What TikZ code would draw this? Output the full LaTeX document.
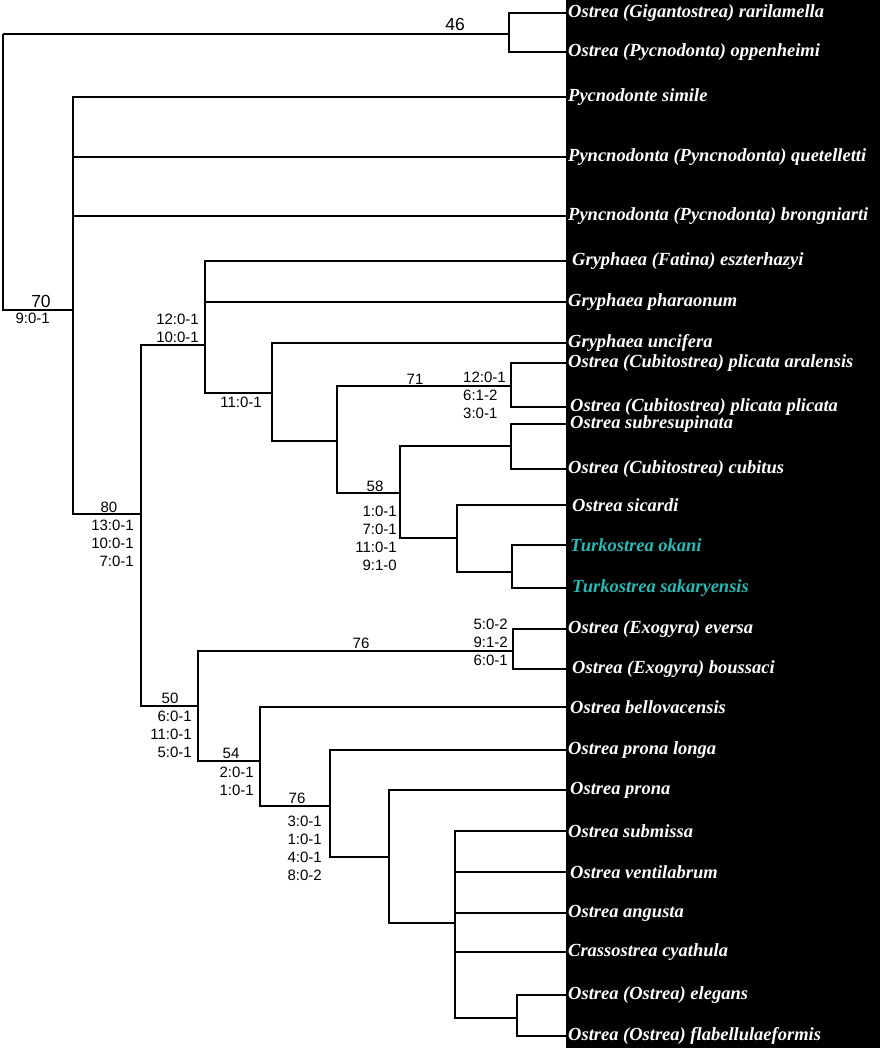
\documentclass[tikz,border=0pt]{standalone}
\usepackage{fontspec}
\setmainfont{Liberation Serif}
\newfontfamily\arialfont{Liberation Sans}
\definecolor{turkcyan}{RGB}{38,186,180}

\begin{document}
\begin{tikzpicture}[x=1pt, y=-1pt]
    % Styles
    \tikzstyle{branch}=[line width=1.3pt, black]
    \tikzstyle{taxon}=[anchor=west, inner xsep=2pt, inner ysep=0pt, text=white, font=\bfseries\itshape\fontsize{18.5}{20}\selectfont]
    \tikzstyle{turk taxon}=[taxon, text=turkcyan]
    \tikzstyle{support}=[anchor=south, inner sep=0.5pt, font=\arialfont\fontsize{15}{18}\selectfont]
    \tikzstyle{big support}=[support, font=\arialfont\fontsize{17.5}{20}\selectfont]
    \tikzstyle{apo}=[inner sep=0pt, align=right, font=\arialfont\fontsize{15}{18}\selectfont]

    \useasboundingbox (0,0) rectangle (880,1048);
    % black panel behind the names
    \fill[black] (566,0) rectangle (880,1048);

    % --- Terminal taxa ---
    \node[taxon] (t1) at (566,13) {Ostrea (Gigantostrea) rarilamella};
    \node[taxon] (t2) at (566,52) {Ostrea (Pycnodonta) oppenheimi};
    \node[taxon] (t3) at (566,97) {Pycnodonte simile};
    \node[taxon] (t4) at (566,157) {Pyncnodonta (Pyncnodonta) quetelletti};
    \node[taxon] (t5) at (566,216) {Pyncnodonta (Pycnodonta) brongniarti};
    \node[taxon] (t6) at (566,261) {\hspace{4pt}Gryphaea (Fatina) eszterhazyi};
    \node[taxon] (t7) at (566,302) {Gryphaea pharaonum};
    \node[taxon] (t8) at (566,343) {Gryphaea uncifera};
    \node[taxon] (t9) at (566,363) {Ostrea (Cubitostrea) plicata aralensis};
    \node[taxon] (t10) at (566,407) {\hspace{2pt}Ostrea (Cubitostrea) plicata plicata};
    \node[taxon] (t11) at (566,424) {\hspace{2pt}Ostrea subresupinata};
    \node[taxon] (t12) at (566,469) {Ostrea (Cubitostrea) cubitus};
    \node[taxon] (t13) at (566,505) {\hspace{4pt}Ostrea sicardi};
    \node[turk taxon] (t14) at (566,545) {\hspace{2pt}Turkostrea okani};
    \node[turk taxon] (t15) at (566,588) {\hspace{4pt}Turkostrea sakaryensis};
    \node[taxon] (t16) at (566,629) {Ostrea (Exogyra) eversa};
    \node[taxon] (t17) at (566,669) {\hspace{4pt}Ostrea (Exogyra) boussaci};
    \node[taxon] (t18) at (566,707) {\hspace{2pt}Ostrea bellovacensis};
    \node[taxon] (t19) at (566,750) {Ostrea prona longa};
    \node[taxon] (t20) at (566,790) {\hspace{2pt}Ostrea prona};
    \node[taxon] (t21) at (566,831) {Ostrea submissa};
    \node[taxon] (t22) at (566,872) {\hspace{2pt}Ostrea ventilabrum};
    \node[taxon] (t23) at (566,913) {Ostrea angusta};
    \node[taxon] (t24) at (566,952) {Crassostrea cyathula};
    \node[taxon] (t25) at (566,995) {Ostrea (Ostrea) elegans};
    \node[taxon] (t26) at (566,1036) {Ostrea (Ostrea) flabellulaeformis};

    % --- Internal nodes (x of the fork, y of the incoming branch) ---
    \coordinate (root) at (3,34);
    \coordinate (g46) at (509,34);
    \coordinate (cA) at (73,310);
    \coordinate (cB) at (141,514);
    \coordinate (cC) at (205,345);
    \coordinate (cD) at (272,393);
    \coordinate (cE) at (337,441);
    \coordinate (cF) at (511,386);
    \coordinate (cG) at (400,493);
    \coordinate (cH) at (511,446);
    \coordinate (cI) at (457,538);
    \coordinate (cJ) at (512,572);
    \coordinate (cK) at (198,706);
    \coordinate (cL) at (513,651);
    \coordinate (cM) at (260,761);
    \coordinate (cN) at (330,806);
    \coordinate (cO) at (389,857);
    \coordinate (cP) at (455,923);
    \coordinate (cQ) at (517,1018);

    % --- Branches ---
    \draw[branch] (root) |- (g46);
    \draw[branch] (root) |- (cA);
    \draw[branch] (g46) |- (t1.west);
    \draw[branch] (g46) |- (t2.west);

    \draw[branch] (cA) |- (t3.west);
    \draw[branch] (cA) |- (t4.west);
    \draw[branch] (cA) |- (t5.west);
    \draw[branch] (cA) |- (cB);

    \draw[branch] (cB) |- (cC);
    \draw[branch] (cB) |- (cK);

    % Gryphaea / Cubitostrea / Turkostrea clade
    \draw[branch] (cC) |- (t6.west);
    \draw[branch] (cC) |- (t7.west);
    \draw[branch] (cC) |- (cD);
    \draw[branch] (cD) |- (t8.west);
    \draw[branch] (cD) |- (cE);
    \draw[branch] (cE) |- (cF);
    \draw[branch] (cE) |- (cG);
    \draw[branch] (cF) |- (t9.west);
    \draw[branch] (cF) |- (t10.west);
    \draw[branch] (cG) |- (cH);
    \draw[branch] (cG) |- (cI);
    \draw[branch] (cH) |- (t11.west);
    \draw[branch] (cH) |- (t12.west);
    \draw[branch] (cI) |- (t13.west);
    \draw[branch] (cI) |- (cJ);
    \draw[branch] (cJ) |- (t14.west);
    \draw[branch] (cJ) |- (t15.west);

    % Exogyra / Ostrea clade
    \draw[branch] (cK) |- (cL);
    \draw[branch] (cK) |- (cM);
    \draw[branch] (cL) |- (t16.west);
    \draw[branch] (cL) |- (t17.west);
    \draw[branch] (cM) |- (t18.west);
    \draw[branch] (cM) |- (cN);
    \draw[branch] (cN) |- (t19.west);
    \draw[branch] (cN) |- (cO);
    \draw[branch] (cO) |- (t20.west);
    \draw[branch] (cO) |- (cP);
    \draw[branch] (cP) |- (t21.west);
    \draw[branch] (cP) |- (t22.west);
    \draw[branch] (cP) |- (t23.west);
    \draw[branch] (cP) |- (t24.west);
    \draw[branch] (cP) |- (cQ);
    \draw[branch] (cQ) |- (t25.west);
    \draw[branch] (cQ) |- (t26.west);

    % --- Support values and character changes ---
    \node[big support] (s46) at (455,31) {46};
    \node[big support] (s70) at (41,308) {70};
    \node[apo, anchor=north east] (a70) at (50,313) {9:0-1};

    \node[support] (s80) at (109,513) {80};
    \node[apo, anchor=north east] (a80) at (134,520) {13:0-1\\10:0-1\\7:0-1};

    \node[apo, anchor=south east] (aC) at (199,343) {12:0-1\\10:0-1};
    \node[apo, anchor=north] (aD) at (241,397) {11:0-1};

    \node[support] (s71) at (415,385) {71};
    \node[apo, anchor=north west, align=left] (aF) at (463,372) {12:0-1\\6:1-2\\3:0-1};

    \node[support] (s58) at (375,492) {58};
    \node[apo, anchor=north east] (aG) at (397,506) {1:0-1\\7:0-1\\11:0-1\\9:1-0};

    \node[support] (s50) at (170,704) {50};
    \node[apo, anchor=north east] (aK) at (192,711) {6:0-1\\11:0-1\\5:0-1};

    \node[support] (s76a) at (361,649) {76};
    \node[apo, anchor=north east] (aL) at (508,619) {5:0-2\\9:1-2\\6:0-1};

    \node[support] (s54) at (231,759) {54};
    \node[apo, anchor=north east] (aM) at (254,767) {2:0-1\\1:0-1};

    \node[support] (s76b) at (297,804) {76};
    \node[apo, anchor=north east] (aN) at (322,816) {3:0-1\\1:0-1\\4:0-1\\8:0-2};

\end{tikzpicture}
\end{document}
